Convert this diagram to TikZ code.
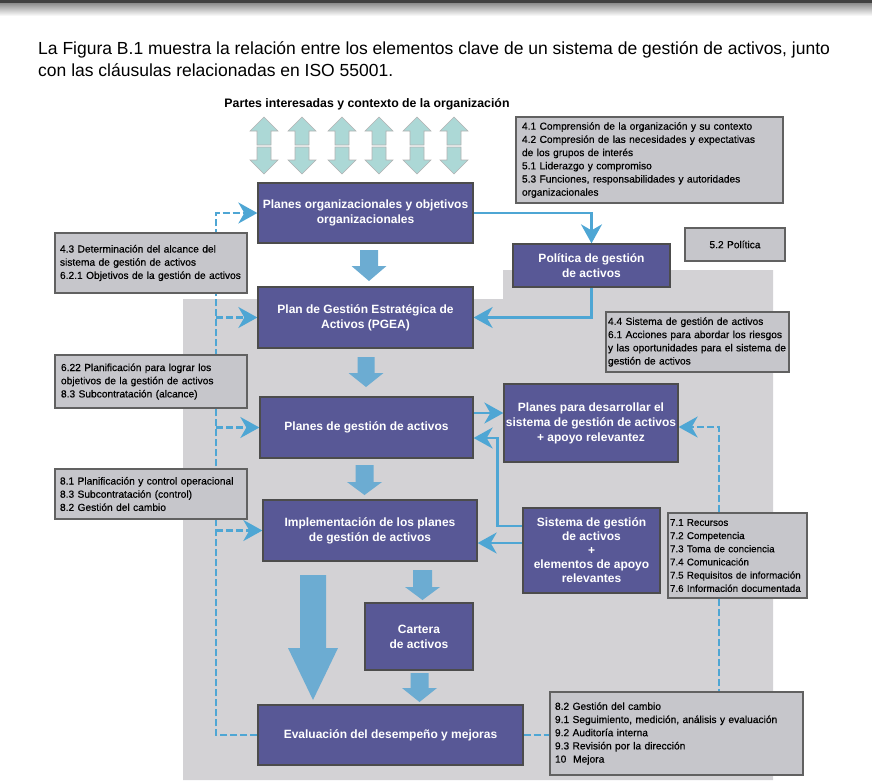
\documentclass[tikz,border=0pt]{standalone}
\usepackage{fontspec}
\setmainfont{Liberation Sans}
\newfontfamily\clausefont[FakeBold=0.5]{Liberation Sans}
\usetikzlibrary{arrows.meta}
\usetikzlibrary{calc}
\definecolor{boxblue}{RGB}{88,88,150}
\definecolor{clausegray}{RGB}{198,198,203}
\definecolor{bggray}{RGB}{211,210,213}
\definecolor{linkblue}{RGB}{78,166,212}
\definecolor{fatblue}{RGB}{108,172,210}
\definecolor{partesteal}{RGB}{172,216,214}
\pgfdeclarelayer{bottom}
\pgfdeclarelayer{background}
\pgfsetlayers{bottom,background,main}

% block arrow pointing down: x, top, head start, tip, shaft half width, head half width
\newcommand{\fatarrow}[6]{%
  \fill[fatblue] (#1-#5,#2) -- (#1+#5,#2) -- (#1+#5,#3) -- (#1+#6,#3) --
  (#1,#4) -- (#1-#6,#3) -- (#1-#5,#3) -- cycle;}

\begin{document}
\begin{tikzpicture}[x=1pt, y=-1pt,
    proc/.style={draw=black!70, line width=1.3pt, fill=boxblue, text=white,
      font=\fontsize{12}{15}\selectfont\bfseries, align=center, inner sep=1pt},
    clause/.style={draw=black!62, line width=2.4pt, fill=clausegray,
      font=\clausefont\fontsize{10.2}{13.2}\selectfont, align=left, inner xsep=6pt, inner ysep=2pt},
    link/.style={draw=linkblue, line width=2.4pt,
      -{Stealth[length=19pt, width=21pt, inset=6pt]}},
    dlink/.style={draw=linkblue, line width=2.4pt, dash pattern=on 7pt off 3pt}]
  \useasboundingbox (0,0) rectangle (872,780);

  % top bar of the page
  \shade[top color=black!45, bottom color=white] (0,3) rectangle (872,16);
  \fill[black!75] (0,0) rectangle (872,3);

  % intro text
  \node[anchor=north west, align=left, inner sep=0pt,
    font=\fontsize{17.5}{22}\selectfont] (intro) at (38,41.5)
    {La Figura B.1 muestra la relación entre los elementos clave de un sistema de gestión de activos, junto\\
     con las cláusulas relacionadas en ISO 55001.};

  \node[font=\fontsize{12.3}{14}\selectfont\bfseries, inner sep=0pt] (partes) at (367,104)
    {Partes interesadas y contexto de la organización};

  % double arrows to the stakeholders
  \foreach \x in {264,302,342,379,417,454}
  {\draw[fill=partesteal, draw=black!30, line width=0.6pt] (\x-7,145) -- (\x-7,131) -- (\x-14,131) --
     (\x,117) -- (\x+14,131) -- (\x+7,131) -- (\x+7,145) -- cycle;
   \draw[fill=partesteal, draw=black!30, line width=0.6pt] (\x-7,147) -- (\x-7,160) -- (\x-14,160) --
     (\x,174) -- (\x+14,160) -- (\x+7,160) -- (\x+7,147) -- cycle;
  }

  % gray area
  \begin{pgfonlayer}{bottom}
    \fill[bggray] (183,299) -- (503,299) -- (503,270) -- (773,270) -- (773,780) -- (183,780) -- cycle;
  \end{pgfonlayer}

  % main boxes
  \node[proc, minimum width=215pt, minimum height=60pt] (orgplan) at (365.5,213)
    {Planes organizacionales y objetivos\\organizacionales};
  \node[proc, minimum width=215pt, minimum height=61pt] (pgea) at (365.5,317.5)
    {Plan de Gestión Estratégica de\\Activos (PGEA)};
  \node[proc, minimum width=157pt, minimum height=43pt] (politica) at (591.5,265.5)
    {Política de gestión\\de activos};
  \node[proc, minimum width=213pt, minimum height=61pt] (planes) at (366.5,427.5)
    {Planes de gestión de activos};
  \node[proc, minimum width=174pt, minimum height=78pt] (desarrollo) at (591,423)
    {Planes para desarrollar el\\sistema de gestión de activos\\+ apoyo relevantez};
  \node[proc, minimum width=214pt, minimum height=61pt] (implem) at (370,530.5)
    {Implementación de los planes\\de gestión de activos};
  \node[proc, minimum width=137pt, minimum height=85pt,
    font=\fontsize{12}{14}\selectfont\bfseries] (sistema) at (591.5,550.5)
    {Sistema de gestión\\de activos\\+\\elementos de apoyo\\relevantes};
  \node[proc, minimum width=108pt, minimum height=67pt] (cartera) at (419,636.5)
    {Cartera\\de activos};
  \node[proc, minimum width=265pt, minimum height=60pt] (evaluacion) at (390.5,735)
    {Evaluación del desempeño y mejoras};

  % clause boxes
  \node[clause, text width=255pt, minimum height=86pt] (c41) at (649.5,160)
    {4.1 Comprensión de la organización y su contexto\\
     4.2 Compresión de las necesidades y expectativas\\
     de los grupos de interés\\
     5.1 Liderazgo y compromiso\\
     5.3 Funciones, responsabilidades y autoridades\\
     organizacionales};
  \node[clause, text width=182pt, minimum height=60pt, inner xsep=5pt] (c43) at (151,263)
    {4.3 Determinación del alcance del\\
     sistema de gestión de activos\\
     6.2.1 Objetivos de la gestión de activos};
  \node[clause, text width=180pt, minimum height=53pt] (c622) at (151,381.5)
    {6.22 Planificación para lograr los\\
     objetivos de la gestión de activos\\
     8.3 Subcontratación (alcance)};
  \node[clause, text width=88pt, minimum height=33pt, align=center] (c52) at (735,244.5)
    {5.2 Política};
  \node[clause, text width=179pt, minimum height=60pt, inner xsep=2pt] (c44) at (697.5,342)
    {4.4 Sistema de gestión de activos\\
     6.1 Acciones para abordar los riesgos\\
     y las oportunidades para el sistema de\\
     gestión de activos};
  \node[clause, text width=182pt, minimum height=50pt, inner xsep=5pt] (c81) at (151,494)
    {8.1 Planificación y control operacional\\
     8.3 Subcontratación (control)\\
     8.2 Gestión del cambio};
  \node[clause, text width=135pt, minimum height=85pt, inner xsep=2pt,
    font=\clausefont\fontsize{9.8}{13.2}\selectfont] (c71) at (737.5,555.5)
    {7.1 Recursos\\
     7.2 Competencia\\
     7.3 Toma de conciencia\\
     7.4 Comunicación\\
     7.5 Requisitos de información\\
     7.6 Información documentada};
  \node[clause, text width=243pt, minimum height=83pt, inner xsep=5pt] (c82) at (676.5,733.5)
    {8.2 Gestión del cambio\\
     9.1 Seguimiento, medición, análisis y evaluación\\
     9.2 Auditoría interna\\
     9.3 Revisión por la dirección\\
     10~ Mejora};

  % block arrows
  \fatarrow{369}{250}{266}{281}{9}{17.5}
  \fatarrow{366}{357}{373}{387}{8.5}{17.5}
  \fatarrow{364.5}{465}{482}{495}{9}{17.5}
  \fatarrow{422.5}{570}{587}{600}{9.5}{17.5}
  \fatarrow{419.5}{673}{688}{702}{9}{17.5}
  \fatarrow{313}{575}{648}{700}{13}{25}

  % connectors
  \begin{pgfonlayer}{background}
    \draw[link] (orgplan.east) -| (politica.north);
    \draw[link] (politica.south) |- (pgea.east);
    \draw[link] ([yshift=14.5pt]planes.east) -- ([yshift=14.5pt]planes.east -| desarrollo.west);
    \draw[link] ([yshift=24.5pt]sistema.west) -- ++(-25,0) |- ([yshift=-10.5pt]planes.east);
    \draw[link] ([yshift=7.5pt]sistema.west) -- ([yshift=7.5pt]sistema.west -| implem.east);

    % dashed feedback on the left
    \coordinate (spine) at (216,213);
    \draw[dlink, -{Stealth[length=19pt, width=21pt, inset=6pt]}] (evaluacion.west) -| (spine) -- (orgplan.west);
    \foreach \n in {pgea,planes,implem}
      \draw[dlink, -{Stealth[length=19pt, width=21pt, inset=6pt]}] (\n.west -| spine) -- (\n.west);

    % dashed links on the right
    \coordinate (rx) at (719,0);
    \draw[dlink, -{Stealth[length=19pt, width=21pt, inset=6pt]}] (c71.north -| rx) |- ([yshift=-4pt]desarrollo.east);
    \draw[dlink] (c71.south -| rx) -- (c82.north -| rx);
    \draw[dlink] (evaluacion.east) -- (evaluacion.east -| c82.west);
  \end{pgfonlayer}
\end{tikzpicture}
\end{document}
